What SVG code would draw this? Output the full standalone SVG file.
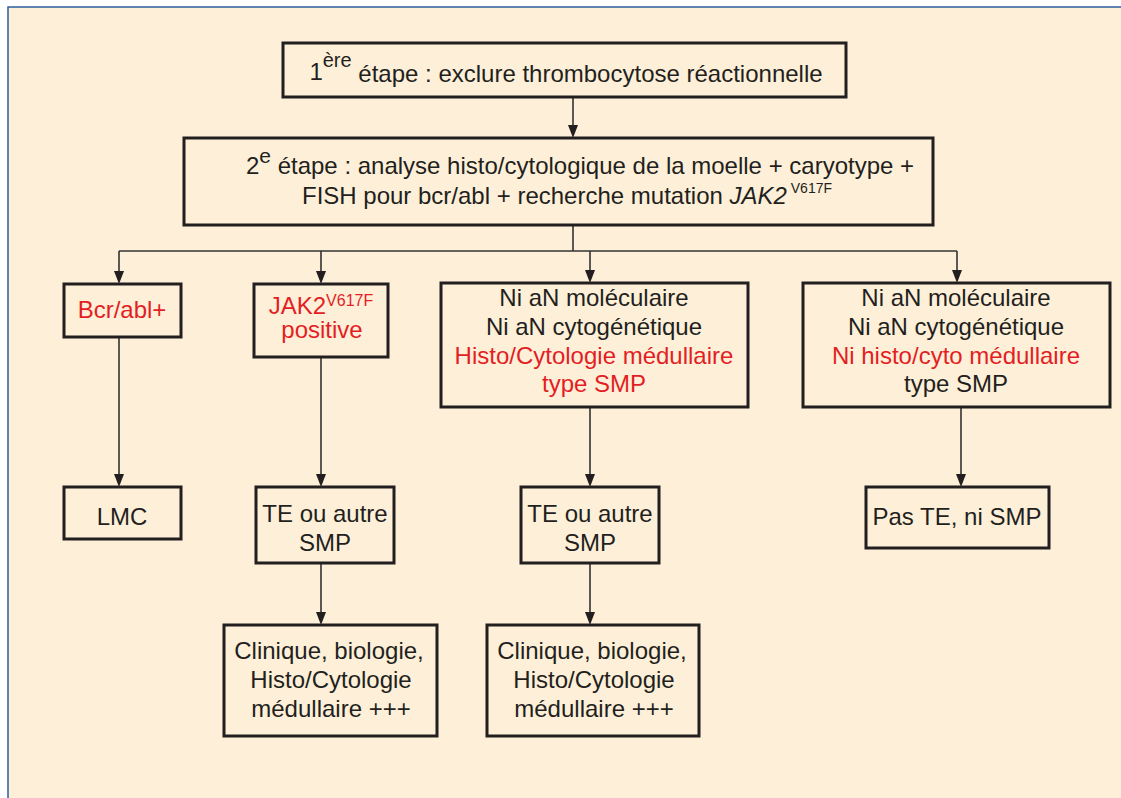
<svg xmlns="http://www.w3.org/2000/svg" width="1121" height="798" viewBox="0 0 1121 798">
<defs>
<style>
.bx{fill:none;stroke:#231f20;stroke-width:3}
.t{font-family:"Liberation Sans",Arial,sans-serif;font-size:24px;fill:#231f20;text-anchor:middle}
.r{fill:#e31e24}
.c{stroke:#333;stroke-width:1.6;fill:none}
.ah{fill:#231f20}
</style>
</defs>
<rect x="8" y="7" width="1125" height="800" fill="#fef0d8" stroke="#2b5c9e" stroke-width="1.5"/>

<g id="connectors">
<line class="c" x1="573" y1="97" x2="573" y2="125"/><path class="ah" d="M568,125 L578,125 L573,138 Z"/>
<line class="c" x1="573" y1="225" x2="573" y2="251"/>
<line class="c" x1="119" y1="251" x2="957" y2="251"/>
<line class="c" x1="119" y1="251" x2="119" y2="271"/><path class="ah" d="M114,271 L124,271 L119,284 Z"/>
<line class="c" x1="321" y1="251" x2="321" y2="271"/><path class="ah" d="M316,271 L326,271 L321,284 Z"/>
<line class="c" x1="590" y1="251" x2="590" y2="270"/><path class="ah" d="M585,270 L595,270 L590,283 Z"/>
<line class="c" x1="957" y1="251" x2="957" y2="270"/><path class="ah" d="M952,270 L962,270 L957,283 Z"/>
<line class="c" x1="119" y1="337" x2="119" y2="474"/><path class="ah" d="M114,474 L124,474 L119,487 Z"/>
<line class="c" x1="321" y1="357" x2="321" y2="474"/><path class="ah" d="M316,474 L326,474 L321,487 Z"/>
<line class="c" x1="590" y1="407" x2="590" y2="474"/><path class="ah" d="M585,474 L595,474 L590,487 Z"/>
<line class="c" x1="961" y1="407" x2="961" y2="474"/><path class="ah" d="M956,474 L966,474 L961,487 Z"/>
<line class="c" x1="321" y1="563" x2="321" y2="612"/><path class="ah" d="M316,612 L326,612 L321,625 Z"/>
<line class="c" x1="590" y1="563" x2="590" y2="612"/><path class="ah" d="M585,612 L595,612 L590,625 Z"/>
</g>

<g id="step1">
<rect class="bx" x="283" y="43" width="563" height="54"/>
<text class="t" x="566" y="80"><tspan>1</tspan><tspan font-size="20" dy="-13">ère</tspan><tspan dy="15"> étape : exclure thrombocytose réactionnelle</tspan></text>
</g>

<g id="step2">
<rect class="bx" x="184" y="138" width="749" height="87"/>
<text class="t" x="580" y="174">2<tspan font-size="21" dy="-11">e</tspan><tspan dy="11"> étape : analyse histo/cytologique de la moelle + caryotype +</tspan></text>
<text class="t" x="567" y="204">FISH pour bcr/abl + recherche mutation <tspan font-style="italic">JAK2</tspan><tspan font-size="14" dy="-11"> V617F</tspan></text>
</g>

<g id="bcrabl">
<rect class="bx" x="64" y="284" width="117" height="53"/>
<text class="t r" x="122" y="318">Bcr/abl+</text>
</g>

<g id="jak2">
<rect class="bx" x="254" y="284" width="134" height="73"/>
<text class="t r" x="321" y="314">JAK2<tspan font-size="16" dy="-8">V617F</tspan></text>
<text class="t r" x="322" y="338">positive</text>
</g>

<g id="nian1">
<rect class="bx" x="441" y="283" width="307" height="124"/>
<text class="t" x="594" y="306">Ni aN moléculaire</text>
<text class="t" x="594" y="335">Ni aN cytogénétique</text>
<text class="t r" x="594" y="364">Histo/Cytologie médullaire</text>
<text class="t r" x="594" y="392">type SMP</text>
</g>

<g id="nian2">
<rect class="bx" x="803" y="283" width="307" height="124"/>
<text class="t" x="956" y="306">Ni aN moléculaire</text>
<text class="t" x="956" y="335">Ni aN cytogénétique</text>
<text class="t r" x="956" y="364">Ni histo/cyto médullaire</text>
<text class="t" x="956" y="392">type SMP</text>
</g>

<g id="lmc">
<rect class="bx" x="64" y="487" width="117" height="52"/>
<text class="t" x="122" y="525">LMC</text>
</g>

<g id="te1">
<rect class="bx" x="256" y="487" width="138" height="76"/>
<text class="t" x="325" y="522">TE ou autre</text>
<text class="t" x="325" y="551">SMP</text>
</g>

<g id="te2">
<rect class="bx" x="521" y="487" width="138" height="76"/>
<text class="t" x="590" y="522">TE ou autre</text>
<text class="t" x="590" y="551">SMP</text>
</g>

<g id="paste">
<rect class="bx" x="866" y="487" width="183" height="61"/>
<text class="t" x="957" y="525">Pas TE, ni SMP</text>
</g>

<g id="clin1">
<rect class="bx" x="224" y="625" width="213" height="111"/>
<text class="t" x="329" y="659">Clinique, biologie,</text>
<text class="t" x="331" y="688">Histo/Cytologie</text>
<text class="t" x="331" y="717">médullaire +++</text>
</g>

<g id="clin2">
<rect class="bx" x="487" y="625" width="212" height="111"/>
<text class="t" x="592" y="659">Clinique, biologie,</text>
<text class="t" x="594" y="688">Histo/Cytologie</text>
<text class="t" x="594" y="717">médullaire +++</text>
</g>
</svg>
